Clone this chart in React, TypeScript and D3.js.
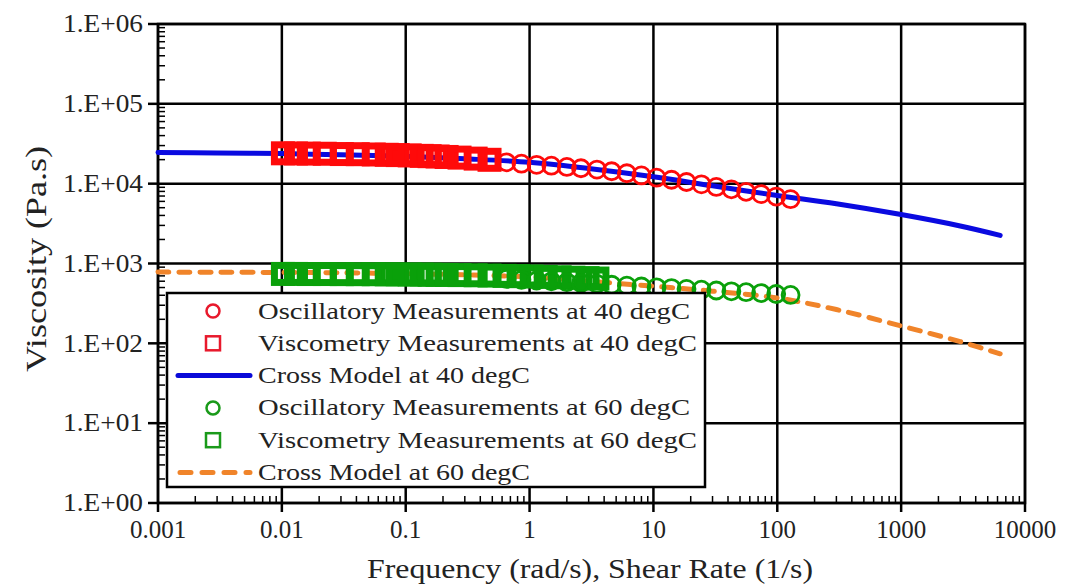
import React from "react";
import * as d3 from "d3";

// frequency / shear rate values (rad/s, 1/s)
const oscRates = [0.65, 0.86, 1.14, 1.5, 2.0, 2.6, 3.5, 4.6, 6.1, 8.0, 10.6, 14, 18.5, 24.4, 32.2, 42.6, 56, 74, 98, 128];
const osc40 = [18500, 17800, 17200, 16800, 16200, 15600, 15000, 14300, 13500, 12700, 11900, 11200, 10500, 9800, 9100, 8500, 7900, 7400, 6900, 6400];
const osc60 = [640, 625, 612, 598, 584, 570, 556, 542, 528, 515, 503, 492, 481, 470, 459, 448, 437, 426, 415, 404];

const visRates40 = [0.0102, 0.013, 0.0165, 0.0222, 0.0305, 0.041, 0.0552, 0.0703, 0.0862, 0.1077, 0.1346, 0.156, 0.181, 0.214, 0.272, 0.367, 0.475];
const vis40 = [24000, 23900, 23800, 23700, 23500, 23400, 23200, 23000, 22800, 22600, 22300, 22100, 21900, 21600, 21200, 20600, 19900];

const visRates60 = [0.0102, 0.013, 0.0165, 0.0222, 0.0305, 0.041, 0.0552, 0.0703, 0.0862, 0.1077, 0.1346, 0.156, 0.181, 0.214, 0.272, 0.367, 0.475, 0.628, 0.815, 1.04, 1.35, 1.75, 2.26, 2.94, 3.53];
const vis60 = [740, 740, 738, 738, 736, 735, 734, 732, 730, 728, 726, 724, 722, 720, 716, 712, 706, 700, 694, 688, 680, 672, 664, 656, 648];

const modelRates = [0.001, 0.003, 0.01, 0.03, 0.1, 0.3, 1, 3, 10, 30, 100, 300, 1000, 3000, 6300];
const model40 = [24500, 24300, 23800, 23000, 22000, 20500, 18500, 15500, 12200, 9400, 7100, 5600, 4100, 2950, 2250];
const model60 = [780, 778, 772, 765, 745, 720, 680, 600, 520, 450, 370, 265, 165, 105, 74];

const xTicks = [0.001, 0.01, 0.1, 1, 10, 100, 1000, 10000];
const xTickLabels = ["0.001", "0.01", "0.1", "1", "10", "100", "1000", "10000"];
const yTicks = [1, 10, 100, 1000, 10000, 100000, 1000000];
const yTickLabels = ["1.E+00", "1.E+01", "1.E+02", "1.E+03", "1.E+04", "1.E+05", "1.E+06"];

const legendItems = [
  { label: "Oscillatory Measurements at 40 degC", kind: "circle", color: "#e8192c", len: 432 },
  { label: "Viscometry Measurements at 40 degC", kind: "square", color: "#e8192c", len: 439 },
  { label: "Cross Model at 40 degC", kind: "line", color: "#0a0ad8", len: 272 },
  { label: "Oscillatory Measurements at 60 degC", kind: "circle", color: "#1a9a1a", len: 432 },
  { label: "Viscometry Measurements at 60 degC", kind: "square", color: "#1a9a1a", len: 439 },
  { label: "Cross Model at 60 degC", kind: "dash", color: "#f0842a", len: 272 },
];

const W = 1066;
const H = 586;
const left = 158, right = 1025, top = 24, bottom = 503;
const font = "'Liberation Serif', 'DejaVu Serif', serif";

const RED = "#ff0a0a";
const GREEN = "#0aa00a";
const BLUE = "#0a0ae0";
const ORANGE = "#f0842a";

export default function App() {
  const x = d3.scaleLog().domain([0.001, 10000]).range([left, right]);
  const y = d3.scaleLog().domain([1, 1e6]).range([bottom, top]);

  const line = d3
    .line<number>()
    .x((d, i) => x(modelRates[i]))
    .y((d) => y(d))
    .curve(d3.curveCatmullRom.alpha(0.5));

  const minorX: number[] = [];
  xTicks.slice(0, -1).forEach((t) => {
    for (let k = 2; k <= 9; k++) minorX.push(t * k);
  });
  const minorY: number[] = [];
  yTicks.slice(0, -1).forEach((t) => {
    for (let k = 2; k <= 9; k++) minorY.push(t * k);
  });

  // heavy markers: overlapping hollow squares read as a solid band
  const sq = 17;
  const sqStroke = 7;

  return (
    <svg width={W} height={H} style={{ position: "absolute", left: 0, top: 0, background: "#fff" }} fontFamily={font}>
      <rect width={W} height={H} fill="#fff" />
      {/* grid */}
      {xTicks.map((t) => (
        <line key={"gx" + t} x1={x(t)} x2={x(t)} y1={top} y2={bottom} stroke="#000" strokeWidth={2.5} />
      ))}
      {yTicks.map((t) => (
        <line key={"gy" + t} x1={left} x2={right} y1={y(t)} y2={y(t)} stroke="#000" strokeWidth={2.5} />
      ))}
      <rect x={left} y={top} width={right - left} height={bottom - top} fill="none" stroke="#000" strokeWidth={2.5} />

      {/* minor ticks */}
      {minorX.map((t) => (
        <line key={"mx" + t} x1={x(t)} x2={x(t)} y1={bottom} y2={bottom - 7} stroke="#000" strokeWidth={1.5} />
      ))}
      {minorY.map((t) => (
        <line key={"my" + t} x1={left} x2={left + 7} y1={y(t)} y2={y(t)} stroke="#000" strokeWidth={1.5} />
      ))}
      {xTicks.map((t) => (
        <line key={"tx" + t} x1={x(t)} x2={x(t)} y1={bottom} y2={bottom + 9} stroke="#000" strokeWidth={2.5} />
      ))}
      {yTicks.map((t) => (
        <line key={"ty" + t} x1={left - 10} x2={left} y1={y(t)} y2={y(t)} stroke="#000" strokeWidth={2.5} />
      ))}

      {/* tick labels */}
      {yTicks.map((t, i) => (
        <text key={"ly" + t} x={143} y={y(t)} dy="0.33em" textAnchor="end" fontSize={25} fill="#222" textLength={80} lengthAdjust="spacingAndGlyphs">
          {yTickLabels[i]}
        </text>
      ))}
      {xTicks.map((t, i) => (
        <text key={"lx" + t} x={x(t)} y={538} textAnchor="middle" fontSize={25} fill="#222">
          {xTickLabels[i]}
        </text>
      ))}

      {/* axis titles */}
      <text x={590} y={578} textAnchor="middle" fontSize={28} fill="#222" textLength={446} lengthAdjust="spacingAndGlyphs">
        Frequency (rad/s), Shear Rate (1/s)
      </text>
      <text transform="translate(46,259) rotate(-90)" textAnchor="middle" fontSize={29} fill="#222" textLength={226} lengthAdjust="spacingAndGlyphs">
        Viscosity (Pa.s)
      </text>

      {/* models */}
      <path d={line(model40) || ""} fill="none" stroke={BLUE} strokeWidth={5} strokeLinecap="round" />
      <path d={line(model60) || ""} fill="none" stroke={ORANGE} strokeWidth={5} strokeDasharray="11 10" strokeLinecap="round" />

      {/* viscometry squares */}
      {vis40.map((v, i) => (
        <rect key={"v40" + i} x={x(visRates40[i]) - sq / 2} y={y(v) - sq / 2} width={sq} height={sq} fill="none" stroke={RED} strokeWidth={sqStroke} />
      ))}
      {vis60.map((v, i) => (
        <rect key={"v60" + i} x={x(visRates60[i]) - sq / 2} y={y(v) - sq / 2} width={sq} height={sq} fill="none" stroke={GREEN} strokeWidth={sqStroke} />
      ))}

      {/* oscillatory circles */}
      {osc40.map((v, i) => (
        <circle key={"o40" + i} cx={x(oscRates[i])} cy={y(v)} r={8.5} fill="none" stroke={RED} strokeWidth={2.8} />
      ))}
      {osc60.map((v, i) => (
        <circle key={"o60" + i} cx={x(oscRates[i])} cy={y(v)} r={8.5} fill="none" stroke={GREEN} strokeWidth={2.8} />
      ))}

      {/* legend */}
      <rect x={167} y={293} width={538} height={194} fill="#fff" stroke="#000" strokeWidth={2.5} />
      {legendItems.map((d, i) => {
        const cy = 311 + i * 32.3;
        return (
          <g key={d.label}>
            {d.kind === "circle" && <circle cx={213} cy={cy} r={6.5} fill="none" stroke={d.color} strokeWidth={2.5} />}
            {d.kind === "square" && <rect x={206} y={cy - 7} width={14} height={14} fill="none" stroke={d.color} strokeWidth={2.5} />}
            {d.kind === "line" && <line x1={178} x2={250} y1={cy} y2={cy} stroke={d.color} strokeWidth={5} strokeLinecap="round" />}
            {d.kind === "dash" && (
              <line x1={180} x2={250} y1={cy} y2={cy} stroke={d.color} strokeWidth={5} strokeDasharray="11 11" strokeLinecap="round" />
            )}
            <text x={258} y={cy} dy="0.33em" fontSize={23} fill="#222" textLength={d.len} lengthAdjust="spacingAndGlyphs">
              {d.label}
            </text>
          </g>
        );
      })}
    </svg>
  );
}
